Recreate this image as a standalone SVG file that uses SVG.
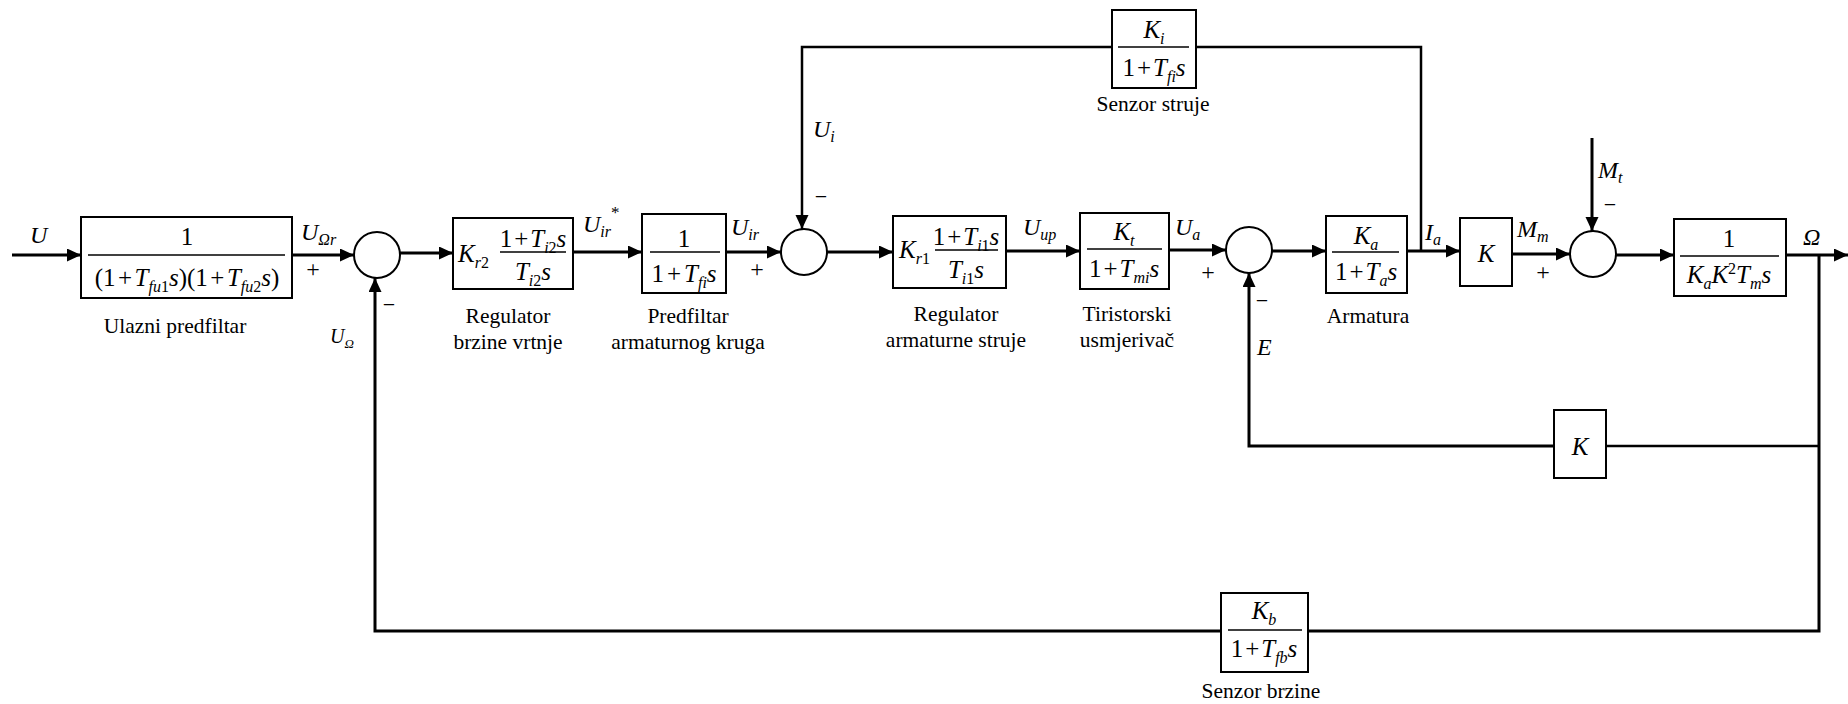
<svg xmlns="http://www.w3.org/2000/svg" width="1848" height="704" viewBox="0 0 1848 704">
<style>
.ln{fill:none;stroke:#000;stroke-width:3}
.lt{fill:none;stroke:#000;stroke-width:2.5}
.bx{fill:#fff;stroke:#000;stroke-width:2}
.fr{stroke:#000;stroke-width:1.5}
.sj{fill:#fff;stroke:#000;stroke-width:2}
text{font-family:'Liberation Serif','Times New Roman','DejaVu Serif','Noto Serif',serif;fill:#000}
.m{font-size:25px}
.s{font-size:24px}
.v{font-style:italic}
.sb{font-size:16px}
.c{text-anchor:middle}
.cap{font-size:21.5px;text-anchor:middle}
</style>
<defs>
<marker id="ah" markerUnits="userSpaceOnUse" markerWidth="15" markerHeight="14" refX="14" refY="6.5" orient="auto">
<path d="M0,0 L14,6.5 L0,13 z" fill="#000"/>
</marker>
</defs>

<g id="connectors">
<line class="ln" x1="12" y1="255" x2="81" y2="255" marker-end="url(#ah)"/>
<line class="ln" x1="292" y1="255" x2="354" y2="255" marker-end="url(#ah)"/>
<line class="ln" x1="400" y1="253" x2="453" y2="253" marker-end="url(#ah)"/>
<line class="ln" x1="573" y1="252" x2="642" y2="252" marker-end="url(#ah)"/>
<line class="ln" x1="726" y1="252" x2="781" y2="252" marker-end="url(#ah)"/>
<line class="ln" x1="827" y1="252" x2="893" y2="252" marker-end="url(#ah)"/>
<line class="ln" x1="1006" y1="251" x2="1080" y2="251" marker-end="url(#ah)"/>
<line class="ln" x1="1169" y1="250" x2="1226" y2="250" marker-end="url(#ah)"/>
<line class="ln" x1="1272" y1="251" x2="1326" y2="251" marker-end="url(#ah)"/>
<line class="ln" x1="1407" y1="251" x2="1460" y2="251" marker-end="url(#ah)"/>
<line class="ln" x1="1512" y1="254" x2="1570" y2="254" marker-end="url(#ah)"/>
<line class="ln" x1="1616" y1="255" x2="1674" y2="255" marker-end="url(#ah)"/>
<line class="ln" x1="1786" y1="255" x2="1848" y2="255" marker-end="url(#ah)"/>
<path class="lt" d="M1421,251 V47 H1196"/>
<path class="lt" d="M1112,47 H802 V229" marker-end="url(#ah)"/>
<path class="ln" d="M1592,138 V231" marker-end="url(#ah)"/>
<path class="lt" d="M1819,446 H1606"/>
<path class="ln" d="M1554,446 H1249 V273" marker-end="url(#ah)"/>
<path class="ln" d="M1819,255 V631 H1308"/>
<path class="ln" d="M1221,631 H375 V278" marker-end="url(#ah)"/>
</g>

<g id="sum1"><circle class="sj" cx="377" cy="255" r="23"/></g>
<g id="sum2"><circle class="sj" cx="804" cy="252" r="23"/></g>
<g id="sum3"><circle class="sj" cx="1249" cy="250" r="23"/></g>
<g id="sum4"><circle class="sj" cx="1593" cy="254" r="23"/></g>

<g id="n_prefilter">
<rect class="bx" x="81" y="217" width="211" height="81"/>
<line class="fr" x1="88" y1="255" x2="285" y2="255"/>
<text class="m c" x="187" y="245">1</text>
<text class="m c" x="187" y="286">(1<tspan dx="2.5">+</tspan><tspan dx="2.5" class="v">T</tspan><tspan class="sb v" dy="6">fu</tspan><tspan class="sb">1</tspan><tspan class="v" dy="-6">s</tspan>)(1<tspan dx="2.5">+</tspan><tspan dx="2.5" class="v">T</tspan><tspan class="sb v" dy="6">fu</tspan><tspan class="sb">2</tspan><tspan class="v" dy="-6">s</tspan>)</text>
<text class="cap" x="175" y="333">Ulazni predfiltar</text>
</g>

<g id="n_speed_reg">
<rect class="bx" x="453" y="218" width="120" height="71"/>
<text class="m" x="458" y="262"><tspan class="v">K</tspan><tspan class="sb v" dy="6">r</tspan><tspan class="sb">2</tspan></text>
<line class="fr" x1="500" y1="252" x2="566" y2="252"/>
<text class="m c" x="533" y="247">1<tspan dx="2">+</tspan><tspan dx="2" class="v">T</tspan><tspan class="sb v" dy="6">i</tspan><tspan class="sb">2</tspan><tspan class="v" dy="-6">s</tspan></text>
<text class="m c" x="533" y="280"><tspan class="v">T</tspan><tspan class="sb v" dy="6">i</tspan><tspan class="sb">2</tspan><tspan class="v" dy="-6">s</tspan></text>
<text class="cap" x="508" y="323">Regulator</text>
<text class="cap" x="508" y="349">brzine vrtnje</text>
</g>

<g id="n_arm_prefilter">
<rect class="bx" x="642" y="214" width="84" height="79"/>
<line class="fr" x1="650" y1="252" x2="720" y2="252"/>
<text class="m c" x="684" y="247">1</text>
<text class="m c" x="684" y="282">1<tspan dx="3">+</tspan><tspan dx="3" class="v">T</tspan><tspan class="sb v" dy="6">fi</tspan><tspan class="v" dy="-6">s</tspan></text>
<text class="cap" x="688" y="323">Predfiltar</text>
<text class="cap" x="688" y="349">armaturnog kruga</text>
</g>

<g id="n_current_reg">
<rect class="bx" x="893" y="216" width="113" height="72"/>
<text class="m" x="899" y="258"><tspan class="v">K</tspan><tspan class="sb v" dy="6">r</tspan><tspan class="sb">1</tspan></text>
<line class="fr" x1="935" y1="250" x2="998" y2="250"/>
<text class="m c" x="966" y="245">1<tspan dx="2">+</tspan><tspan dx="2" class="v">T</tspan><tspan class="sb v" dy="6">i</tspan><tspan class="sb">1</tspan><tspan class="v" dy="-6">s</tspan></text>
<text class="m c" x="966" y="278"><tspan class="v">T</tspan><tspan class="sb v" dy="6">i</tspan><tspan class="sb">1</tspan><tspan class="v" dy="-6">s</tspan></text>
<text class="cap" x="956" y="321">Regulator</text>
<text class="cap" x="956" y="347">armaturne struje</text>
</g>

<g id="n_thyristor">
<rect class="bx" x="1080" y="213" width="89" height="76"/>
<text class="m c" x="1124" y="240"><tspan class="v">K</tspan><tspan class="sb v" dy="6">t</tspan></text>
<line class="fr" x1="1087" y1="249" x2="1162" y2="249"/>
<text class="m c" x="1124" y="277">1<tspan dx="2">+</tspan><tspan dx="2" class="v">T</tspan><tspan class="sb v" dy="6">mi</tspan><tspan class="v" dy="-6">s</tspan></text>
<text class="cap" x="1127" y="321">Tiristorski</text>
<text class="cap" x="1127" y="347">usmjerivač</text>
</g>

<g id="n_armature">
<rect class="bx" x="1326" y="216" width="81" height="77"/>
<text class="m c" x="1366" y="244"><tspan class="v">K</tspan><tspan class="sb v" dy="6">a</tspan></text>
<line class="fr" x1="1332" y1="252" x2="1399" y2="252"/>
<text class="m c" x="1366" y="280">1<tspan dx="2">+</tspan><tspan dx="2" class="v">T</tspan><tspan class="sb v" dy="6">a</tspan><tspan class="v" dy="-6">s</tspan></text>
<text class="cap" x="1368" y="323">Armatura</text>
</g>

<g id="n_K">
<rect class="bx" x="1460" y="218" width="52" height="68"/>
<text class="m c v" x="1486" y="262">K</text>
</g>

<g id="n_mech">
<rect class="bx" x="1674" y="219" width="112" height="77"/>
<text class="m c" x="1729" y="247">1</text>
<line class="fr" x1="1680" y1="256" x2="1779" y2="256"/>
<text class="m c" x="1729" y="283"><tspan class="v">K</tspan><tspan class="sb v" dy="6">a</tspan><tspan class="v" dy="-6">K</tspan><tspan class="sb" dy="-9">2</tspan><tspan class="v" dy="9">T</tspan><tspan class="sb v" dy="6">m</tspan><tspan class="v" dy="-6">s</tspan></text>
</g>

<g id="n_current_sensor">
<rect class="bx" x="1112" y="10" width="84" height="78"/>
<text class="m c" x="1154" y="38"><tspan class="v">K</tspan><tspan class="sb v" dy="6">i</tspan></text>
<line class="fr" x1="1118" y1="47" x2="1189" y2="47"/>
<text class="m c" x="1154" y="76">1<tspan dx="2">+</tspan><tspan dx="2" class="v">T</tspan><tspan class="sb v" dy="6">fi</tspan><tspan class="v" dy="-6">s</tspan></text>
<text class="cap" x="1153" y="111">Senzor struje</text>
</g>

<g id="n_K_fb">
<rect class="bx" x="1554" y="410" width="52" height="68"/>
<text class="m c v" x="1580" y="455">K</text>
</g>

<g id="n_speed_sensor">
<rect class="bx" x="1221" y="593" width="87" height="79"/>
<text class="m c" x="1264" y="619"><tspan class="v">K</tspan><tspan class="sb v" dy="6">b</tspan></text>
<line class="fr" x1="1228" y1="630" x2="1302" y2="630"/>
<text class="m c" x="1264" y="657">1<tspan dx="2">+</tspan><tspan dx="2" class="v">T</tspan><tspan class="sb v" dy="6">fb</tspan><tspan class="v" dy="-6">s</tspan></text>
<text class="cap" x="1261" y="698">Senzor brzine</text>
</g>

<g id="labels">
<text class="s v" x="30" y="243">U</text>
<text class="s" x="301" y="240"><tspan class="v">U</tspan><tspan class="sb v" dy="5">Ωr</tspan></text>
<text class="s c" x="313" y="277">+</text>
<text x="330" y="343" font-size="20"><tspan class="v">U</tspan><tspan class="v" font-size="13" dy="5">Ω</tspan></text>
<text class="c" x="389" y="312" font-size="22">−</text>
<text class="s" x="583" y="232"><tspan class="v">U</tspan><tspan class="sb v" dy="5">ir</tspan><tspan font-size="17" dy="-19">*</tspan></text>
<text class="s" x="731" y="235"><tspan class="v">U</tspan><tspan class="sb v" dy="5">ir</tspan></text>
<text class="s c" x="757" y="277">+</text>
<text class="s" x="813" y="137"><tspan class="v">U</tspan><tspan class="sb v" dy="5">i</tspan></text>
<text class="c" x="821" y="204" font-size="22">−</text>
<text class="s" x="1023" y="235"><tspan class="v">U</tspan><tspan class="sb v" dy="5">up</tspan></text>
<text class="s" x="1175" y="235"><tspan class="v">U</tspan><tspan class="sb v" dy="5">a</tspan></text>
<text class="s c" x="1208" y="280">+</text>
<text class="c" x="1262" y="308" font-size="22">−</text>
<text class="s v" x="1257" y="355">E</text>
<text class="s" x="1425" y="240"><tspan class="v">I</tspan><tspan class="sb v" dy="5">a</tspan></text>
<text class="s" x="1517" y="237"><tspan class="v">M</tspan><tspan class="sb v" dy="5">m</tspan></text>
<text class="s c" x="1543" y="280">+</text>
<text class="s" x="1598" y="178"><tspan class="v">M</tspan><tspan class="sb v" dy="5">t</tspan></text>
<text class="c" x="1610" y="212" font-size="22">−</text>
<text class="s v" x="1803" y="245">Ω</text>
</g>
</svg>
